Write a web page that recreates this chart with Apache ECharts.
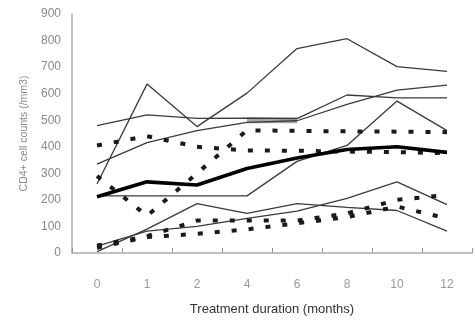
<!DOCTYPE html>
<html>
<head>
<meta charset="utf-8">
<script src="https://cdn.jsdelivr.net/npm/echarts@6/dist/echarts.min.js"></script>
<style>html,body{margin:0;padding:0;background:#fff}#c{width:475px;height:321px}</style>
</head>
<body>
<div id="c"></div>
<script>
// Categories (treatment months)
var months = ['0', '1', '2', '4', '6', '8', '10', '12'];
var yTicks = [0, 100, 200, 300, 400, 500, 600, 700, 800, 900];

// Individual patients (thin solid lines)
var patientA = [260, 636, 476, 602, 770, 807, 702, 684];
var patientB = [335, 416, 461, 492, 498, 560, 613, 632];
var patientC = [480, 520, 507, 508, 506, 595, 584, 584];
var patientD = [215, 215, 215, 215, 345, 405, 572, 461];
var patientE = [5, 90, 186, 149, 186, 172, 160, 82];
var patientF = [26, 82, 100, 130, 158, 206, 268, 182];
// Overlap band (grey) where two lines coincide
var overlapBand = [null, null, null, 500, 500, null, null, null];

// Patients drawn with thick dotted lines
var dottedP1 = [405, 440, 400, 386, 385, 382, 380, 376];
var dottedP2 = [290, 140, 300, 462, 460, 458, 457, 455];
var dottedQ1 = [28, 63, 122, 122, 122, 149, 200, 219];
var dottedQ2 = [20, 60, 72, 89, 112, 135, 175, 130];

// Mean (bold line)
var meanLine = [212, 268, 256, 318, 358, 390, 400, 379];

var chart = echarts.init(document.getElementById('c'), null, {renderer: 'canvas'});

function thin(d) {
  return {type: 'line', data: d, symbol: 'none', silent: true, z: 3,
    lineStyle: {color: '#3a3a3a', width: 1.3}};
}
function dotted(d) {
  return {type: 'line', data: d, symbol: 'none', silent: true, z: 4,
    lineStyle: {color: '#1a1a1a', width: 4, type: [5, 12], cap: 'butt'}};
}

var series = [
  {type: 'line', data: overlapBand, symbol: 'none', silent: true, z: 2,
    lineStyle: {color: '#a8a8a8', width: 6}},
  thin(patientA), thin(patientB), thin(patientC), thin(patientD), thin(patientE), thin(patientF),
  dotted(dottedP1), dotted(dottedP2), dotted(dottedQ1), dotted(dottedQ2),
  {type: 'line', data: meanLine, symbol: 'none', silent: true, z: 5,
    lineStyle: {color: '#000', width: 3.6}}
];

chart.setOption({
  animation: false,
  backgroundColor: '#fff',
  grid: {left: 72, right: 3, top: 14, bottom: 64},
  xAxis: {
    type: 'category',
    data: months,
    boundaryGap: true,
    name: 'Treatment duration (months)',
    nameLocation: 'middle',
    nameGap: 50,
    nameTextStyle: {color: '#333', fontSize: 13, fontFamily: 'Liberation Sans'},
    axisLine: {lineStyle: {color: '#aaa', width: 1.5}},
    axisTick: {show: true, inside: true, length: 5, lineStyle: {color: '#999'}},
    axisLabel: {color: '#999', fontSize: 12, margin: 26, fontFamily: 'Liberation Sans'},
    splitLine: {show: false}
  },
  yAxis: {
    type: 'value',
    min: yTicks[0],
    max: yTicks[yTicks.length - 1],
    interval: 100,
    name: 'CD4+ cell counts (/mm3)',
    nameLocation: 'middle',
    nameGap: 40,
    nameTextStyle: {color: '#888', fontSize: 10.5, fontFamily: 'Liberation Sans'},
    axisLine: {show: true, lineStyle: {color: '#aaa', width: 1.5}},
    axisTick: {show: false},
    axisLabel: {color: '#888', fontSize: 12, margin: 11, fontFamily: 'Liberation Sans'},
    splitLine: {show: false}
  },
  series: series
});
</script>
</body>
</html>
